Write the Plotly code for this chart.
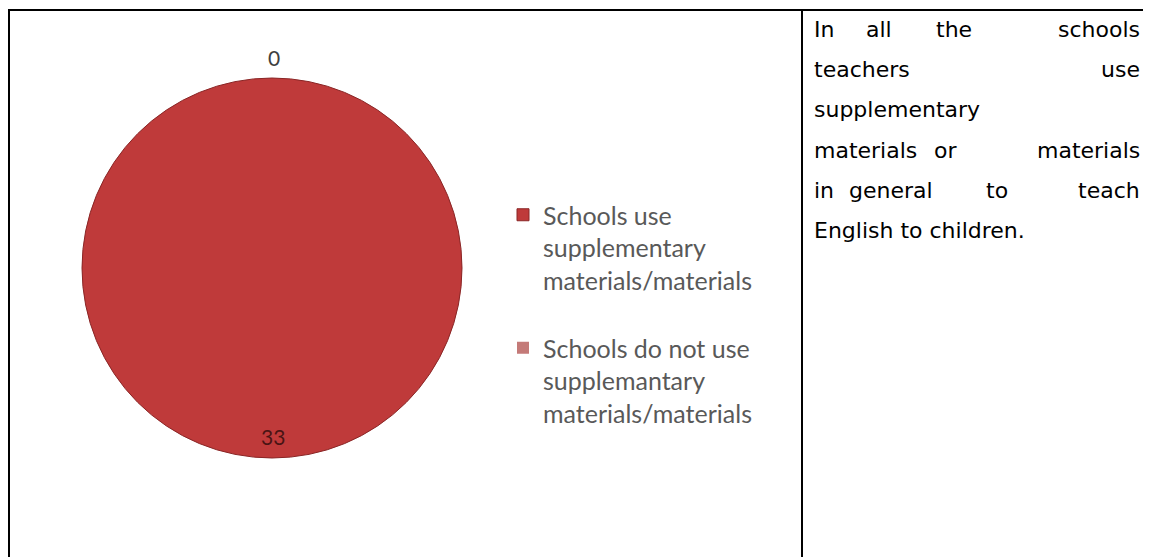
import plotly.graph_objects as go

# The page body has an 8px margin, so the figure is drawn at (8, 8) in the window.
OFF = 8
W, H = 1151 - OFF, 557 - OFF

# ---- data ----
labels = [
    "Schools use<br>supplementary<br>materials/materials<br> ",
    "Schools do not use<br>supplemantary<br>materials/materials",
]
values = [33, 0]
slice_colors = ["#BF3A3A", "#C47A78"]

note_lines = [
    ["In", "all", "the", "schools"],
    ["teachers", "use"],
    ["supplementary"],
    ["materials", "or", "materials"],
    ["in", "general", "to", "teach"],
    ["English to children."],
]

def px(x):
    return (x - OFF) / W

def py(y):
    return 1 - (y - OFF) / H

fig = go.Figure()
fig.add_trace(go.Pie(
    labels=labels,
    values=values,
    sort=False,
    direction="clockwise",
    rotation=90,
    textinfo="none",
    hoverinfo="skip",
    marker=dict(colors=slice_colors,
                line=dict(color=["#8A2626", "#8A2626"], width=[1, 0])),
    domain=dict(x=[px(82), px(462)], y=[py(459), py(77)]),
    showlegend=True,
))

annotations = []
# value labels
annotations.append(dict(x=px(274), y=py(57), xref="paper", yref="paper",
                        text=str(values[1]), showarrow=False,
                        xanchor="center", yanchor="middle",
                        font=dict(family="Lato", size=21, color="#404040")))
annotations.append(dict(x=px(273), y=py(436), xref="paper", yref="paper",
                        text=str(values[0]), showarrow=False,
                        xanchor="center", yanchor="middle",
                        font=dict(family="Lato", size=21, color="#4A1414")))

# right-hand justified text
line_y = [30, 70, 110, 150, 190, 230]
left_x, right_x = 812, 1142
mid_centres = {
    0: [879, 954],
    3: [945],
    4: [891, 997],
}
tfont = dict(family="DejaVu Sans", size=22, color="#000000")

def word(x, y, text, anchor):
    annotations.append(dict(x=px(x), y=py(y), xref="paper", yref="paper",
                            text=text, showarrow=False, xanchor=anchor,
                            yanchor="middle", font=tfont))

for i, words in enumerate(note_lines):
    y = line_y[i]
    word(left_x, y, words[0], "left")
    if len(words) > 1:
        word(right_x, y, words[-1], "right")
        for w, cx in zip(words[1:-1], mid_centres.get(i, [])):
            word(cx, y, w, "center")

# table borders
shapes = [
    dict(type="line", xref="paper", yref="paper", x0=px(9), x1=px(9), y0=py(9), y1=py(557),
         line=dict(color="black", width=2)),
    dict(type="line", xref="paper", yref="paper", x0=px(8), x1=px(1151), y0=py(10), y1=py(10),
         line=dict(color="black", width=2)),
    dict(type="line", xref="paper", yref="paper", x0=px(802), x1=px(802), y0=py(9), y1=py(557),
         line=dict(color="black", width=2)),
]

fig.update_layout(
    width=W, height=H,
    margin=dict(l=0, r=0, t=0, b=0),
    paper_bgcolor="white",
    plot_bgcolor="white",
    annotations=annotations,
    shapes=shapes,
    legend=dict(
        x=px(503), y=py(192), xanchor="left", yanchor="top",
        font=dict(family="Lato", size=25, color="#595959"),
        valign="top",
        bgcolor="rgba(0,0,0,0)",
        itemclick=False, itemdoubleclick=False,
    ),
)

fig.write_html("out.html")
